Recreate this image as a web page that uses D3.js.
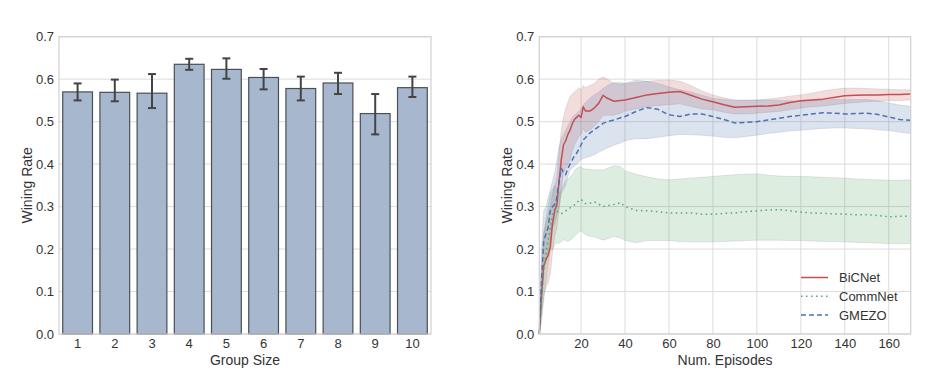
<!DOCTYPE html>
<html>
<head>
<meta charset="utf-8">
<script src="https://cdn.jsdelivr.net/npm/d3@7"></script>
<style>
body { margin: 0; background: #fff; }
text { font-family: "Liberation Sans", Arial, sans-serif; }
</style>
</head>
<body>
<div id="plot"></div>
<script>
// left panel: winning rate per group size
var groupSizes = [1, 2, 3, 4, 5, 6, 7, 8, 9, 10];
var winRates = [0.570, 0.569, 0.567, 0.635, 0.623, 0.604, 0.578, 0.591, 0.519, 0.580];
var errLow = [0.550, 0.548, 0.532, 0.622, 0.601, 0.576, 0.550, 0.565, 0.470, 0.558];
var errHigh = [0.590, 0.599, 0.612, 0.648, 0.649, 0.624, 0.606, 0.615, 0.565, 0.606];

// right panel: learning curves
var episodes = [1, 2, 3, 4, 5, 6, 7, 8, 9, 10, 11, 12, 13, 14, 15, 16, 17, 18, 19, 20, 21, 22, 24, 26, 28, 30, 32, 35, 38, 40,
    45, 50, 55, 60, 65, 70, 75, 80, 85, 90, 95, 100, 105, 110, 115, 120, 125, 130, 135, 140, 145, 150, 155, 160, 165, 170];

var bicnetMean = [0.0, 0.09, 0.16, 0.175, 0.185, 0.205, 0.26, 0.29, 0.305, 0.36, 0.41, 0.445, 0.455, 0.47, 0.48, 0.495, 0.505, 0.51, 0.515, 0.51, 0.535, 0.525, 0.525, 0.532, 0.543, 0.562, 0.555, 0.548, 0.55, 0.551,
    0.557, 0.563, 0.566, 0.569, 0.571, 0.562, 0.553, 0.547, 0.54, 0.534, 0.535, 0.536, 0.537, 0.539, 0.545, 0.549, 0.551, 0.553, 0.557, 0.561, 0.562, 0.563, 0.563, 0.564, 0.564, 0.565];
var bicnetHigh = [0.02, 0.15, 0.24, 0.26, 0.28, 0.3, 0.33, 0.35, 0.37, 0.43, 0.48, 0.51, 0.53, 0.545, 0.56, 0.565, 0.57, 0.575, 0.58, 0.575, 0.585, 0.58, 0.585, 0.59, 0.6, 0.605, 0.6, 0.59, 0.588, 0.59,
    0.592, 0.595, 0.597, 0.598, 0.595, 0.585, 0.572, 0.563, 0.556, 0.551, 0.551, 0.551, 0.553, 0.556, 0.56, 0.563, 0.567, 0.572, 0.576, 0.579, 0.579, 0.578, 0.577, 0.576, 0.575, 0.575];
var bicnetLow = [0.0, 0.04, 0.09, 0.11, 0.12, 0.14, 0.19, 0.23, 0.25, 0.29, 0.34, 0.38, 0.39, 0.4, 0.41, 0.43, 0.445, 0.455, 0.465, 0.47, 0.485, 0.475, 0.48, 0.49, 0.5, 0.515, 0.515, 0.515, 0.52, 0.525,
    0.53, 0.535, 0.538, 0.54, 0.542, 0.536, 0.53, 0.528, 0.522, 0.518, 0.518, 0.52, 0.522, 0.524, 0.528, 0.532, 0.535, 0.537, 0.54, 0.543, 0.545, 0.547, 0.548, 0.549, 0.55, 0.551];

var commnetMean = [0.0, 0.08, 0.15, 0.19, 0.22, 0.25, 0.28, 0.295, 0.29, 0.285, 0.283, 0.287, 0.29, 0.293, 0.297, 0.3, 0.304, 0.309, 0.314, 0.317, 0.312, 0.307, 0.308, 0.311, 0.306, 0.3, 0.302, 0.305, 0.309, 0.3,
    0.291, 0.29, 0.288, 0.285, 0.285, 0.285, 0.282, 0.282, 0.284, 0.285, 0.288, 0.29, 0.292, 0.293, 0.29, 0.287, 0.285, 0.284, 0.283, 0.282, 0.281, 0.281, 0.279, 0.276, 0.277, 0.277];
var commnetHigh = [0.02, 0.15, 0.23, 0.27, 0.3, 0.33, 0.34, 0.35, 0.34, 0.33, 0.34, 0.35, 0.36, 0.365, 0.37, 0.375, 0.385, 0.39, 0.393, 0.394, 0.39, 0.388, 0.388, 0.386, 0.387, 0.386, 0.39, 0.396, 0.394, 0.384,
    0.376, 0.37, 0.365, 0.363, 0.365, 0.367, 0.369, 0.371, 0.373, 0.375, 0.376, 0.377, 0.374, 0.372, 0.371, 0.371, 0.37, 0.369, 0.368, 0.367, 0.365, 0.364, 0.363, 0.362, 0.362, 0.363];
var commnetLow = [0.0, 0.03, 0.08, 0.12, 0.16, 0.198, 0.2, 0.21, 0.215, 0.213, 0.218, 0.222, 0.22, 0.218, 0.221, 0.225, 0.23, 0.235, 0.24, 0.243, 0.238, 0.234, 0.23, 0.229, 0.225, 0.221, 0.224, 0.23, 0.226, 0.22,
    0.215, 0.22, 0.22, 0.22, 0.218, 0.217, 0.217, 0.217, 0.218, 0.219, 0.22, 0.221, 0.221, 0.221, 0.22, 0.22, 0.219, 0.218, 0.218, 0.217, 0.216, 0.215, 0.214, 0.213, 0.213, 0.213];

var gmezoMean = [0.0, 0.12, 0.22, 0.235, 0.25, 0.29, 0.3, 0.305, 0.32, 0.36, 0.39, 0.38, 0.375, 0.39, 0.4, 0.41, 0.42, 0.426, 0.435, 0.445, 0.457, 0.462, 0.473, 0.481, 0.488, 0.496, 0.5, 0.504, 0.509, 0.512,
    0.524, 0.533, 0.529, 0.516, 0.512, 0.518, 0.518, 0.512, 0.505, 0.497, 0.498, 0.5, 0.504, 0.508, 0.512, 0.515, 0.518, 0.521, 0.52, 0.518, 0.519, 0.52, 0.517, 0.511, 0.505, 0.503];
var gmezoHigh = [0.02, 0.2, 0.29, 0.3, 0.32, 0.34, 0.36, 0.38, 0.41, 0.44, 0.46, 0.47, 0.48, 0.49, 0.5, 0.51, 0.515, 0.52, 0.525, 0.53, 0.54, 0.545, 0.555, 0.563, 0.57, 0.578, 0.585, 0.592, 0.592, 0.59,
    0.598, 0.595, 0.59, 0.582, 0.575, 0.57, 0.562, 0.555, 0.552, 0.55, 0.55, 0.551, 0.551, 0.55, 0.549, 0.548, 0.549, 0.551, 0.552, 0.552, 0.552, 0.552, 0.549, 0.544, 0.539, 0.536];
var gmezoLow = [0.0, 0.06, 0.15, 0.17, 0.19, 0.23, 0.25, 0.26, 0.28, 0.3, 0.33, 0.34, 0.35, 0.37, 0.385, 0.39, 0.395, 0.4, 0.405, 0.41, 0.413, 0.415, 0.418, 0.422, 0.428, 0.433, 0.438, 0.445, 0.45, 0.455,
    0.46, 0.46, 0.463, 0.467, 0.47, 0.469, 0.468, 0.466, 0.463, 0.462, 0.465, 0.468, 0.472, 0.475, 0.478, 0.48, 0.482, 0.484, 0.485, 0.485, 0.484, 0.483, 0.481, 0.479, 0.475, 0.472];

var yTicks = [0.0, 0.1, 0.2, 0.3, 0.4, 0.5, 0.6, 0.7];
var episodeTicks = [20, 40, 60, 80, 100, 120, 140, 160];

var series = [
    { name: 'BiCNet', mean: bicnetMean, low: bicnetLow, high: bicnetHigh, color: '#c44e52', dash: null },
    { name: 'CommNet', mean: commnetMean, low: commnetLow, high: commnetHigh, color: '#55a868', dash: '1.5,3.5' },
    { name: 'GMEZO', mean: gmezoMean, low: gmezoLow, high: gmezoHigh, color: '#4c72b0', dash: '5,3' }
];

var svg = d3.select('#plot')
    .append('svg')
    .attr('width', 950)
    .attr('height', 381);

var plotTop = 36.7, plotBottom = 334;
var gridColor = '#dcdcdc';
var textColor = '#333';

var y = d3.scaleLinear().domain([0, 0.7]).range([plotBottom, plotTop]);

function drawYAxis(g, x0, x1) {
    g.append('g')
        .selectAll('line')
        .data(yTicks)
        .enter().append('line')
        .attr('x1', x0).attr('x2', x1)
        .attr('y1', function (d) { return y(d); })
        .attr('y2', function (d) { return y(d); })
        .attr('stroke', gridColor)
        .attr('stroke-width', 1);
    var ax = g.append('g')
        .attr('transform', 'translate(' + x0 + ',0)')
        .call(d3.axisLeft(y).tickValues(yTicks).tickSize(0).tickPadding(5).tickFormat(d3.format('.1f')));
    ax.select('.domain').remove();
    ax.selectAll('text').attr('font-size', 13).attr('fill', textColor)
        .style('font-family', '"Liberation Sans", Arial, sans-serif');
}

function frame(g, x0, x1) {
    g.append('rect')
        .attr('x', x0).attr('y', plotTop)
        .attr('width', x1 - x0).attr('height', plotBottom - plotTop)
        .attr('fill', 'none')
        .attr('stroke', '#d0d0d0')
        .attr('stroke-width', 1.2);
}

// ---- left: bar chart ----
var L0 = 59, L1 = 431;
var left = svg.append('g');

var xBand = d3.scaleBand().domain(groupSizes).range([L0, L1]).paddingInner(0.2).paddingOuter(0.1);

drawYAxis(left, L0, L1);

left.append('g')
    .selectAll('rect')
    .data(groupSizes)
    .enter().append('rect')
    .attr('x', function (d) { return xBand(d); })
    .attr('width', xBand.bandwidth())
    .attr('y', function (d, i) { return y(winRates[i]); })
    .attr('height', function (d, i) { return y(0) - y(winRates[i]); })
    .attr('fill', '#a7b8ce')
    .attr('stroke', '#4a4f56')
    .attr('stroke-width', 1.2);

var errs = left.append('g')
    .selectAll('g')
    .data(groupSizes)
    .enter().append('g')
    .attr('stroke', '#444')
    .attr('stroke-width', 2);
errs.append('line')
    .attr('x1', function (d) { return xBand(d) + xBand.bandwidth() / 2; })
    .attr('x2', function (d) { return xBand(d) + xBand.bandwidth() / 2; })
    .attr('y1', function (d, i) { return y(errLow[i]); })
    .attr('y2', function (d, i) { return y(errHigh[i]); });
errs.append('line')
    .attr('x1', function (d) { return xBand(d) + xBand.bandwidth() / 2 - 4; })
    .attr('x2', function (d) { return xBand(d) + xBand.bandwidth() / 2 + 4; })
    .attr('y1', function (d, i) { return y(errLow[i]); })
    .attr('y2', function (d, i) { return y(errLow[i]); });
errs.append('line')
    .attr('x1', function (d) { return xBand(d) + xBand.bandwidth() / 2 - 4; })
    .attr('x2', function (d) { return xBand(d) + xBand.bandwidth() / 2 + 4; })
    .attr('y1', function (d, i) { return y(errHigh[i]); })
    .attr('y2', function (d, i) { return y(errHigh[i]); });

frame(left, L0, L1);

var lx = left.append('g')
    .attr('transform', 'translate(0,' + plotBottom + ')')
    .call(d3.axisBottom(xBand).tickSize(0).tickPadding(5));
lx.select('.domain').remove();
lx.selectAll('text').attr('font-size', 13).attr('fill', textColor)
    .style('font-family', '"Liberation Sans", Arial, sans-serif');

left.append('text')
    .attr('x', (L0 + L1) / 2).attr('y', 365)
    .attr('text-anchor', 'middle')
    .attr('font-size', 14).attr('fill', textColor)
    .text('Group Size');
left.append('text')
    .attr('transform', 'translate(32,' + ((plotTop + plotBottom) / 2) + ') rotate(-90)')
    .attr('text-anchor', 'middle')
    .attr('font-size', 14).attr('fill', textColor)
    .text('Wining Rate');

// ---- right: learning curves ----
var R0 = 539.3, R1 = 910.7;
var right = svg.append('g');
var x = d3.scaleLinear().domain([1, 170]).range([R0, R1]);

drawYAxis(right, R0, R1);
right.append('g')
    .selectAll('line')
    .data(episodeTicks)
    .enter().append('line')
    .attr('x1', function (d) { return x(d); })
    .attr('x2', function (d) { return x(d); })
    .attr('y1', plotTop).attr('y2', plotBottom)
    .attr('stroke', gridColor)
    .attr('stroke-width', 1);

var band = d3.area()
    .x(function (d, i) { return x(episodes[i]); });

series.forEach(function (s) {
    right.append('path')
        .attr('d', band.y0(function (d, i) { return y(s.low[i]); }).y1(function (d, i) { return y(s.high[i]); })(episodes))
        .attr('fill', s.color)
        .attr('fill-opacity', 0.2)
        .attr('stroke', '#888')
        .attr('stroke-opacity', 0.25)
        .attr('stroke-width', 0.8);
});

var line = d3.line()
    .x(function (d, i) { return x(episodes[i]); });

series.forEach(function (s) {
    right.append('path')
        .attr('d', line.y(function (d, i) { return y(s.mean[i]); })(episodes))
        .attr('fill', 'none')
        .attr('stroke', s.color)
        .attr('stroke-width', 1.5)
        .attr('stroke-linejoin', 'round')
        .attr('stroke-dasharray', s.dash);
});

frame(right, R0, R1);

var rx = right.append('g')
    .attr('transform', 'translate(0,' + plotBottom + ')')
    .call(d3.axisBottom(x).tickValues(episodeTicks).tickSize(0).tickPadding(5));
rx.select('.domain').remove();
rx.selectAll('text').attr('font-size', 13).attr('fill', textColor)
    .style('font-family', '"Liberation Sans", Arial, sans-serif');

right.append('text')
    .attr('x', (R0 + R1) / 2).attr('y', 365)
    .attr('text-anchor', 'middle')
    .attr('font-size', 14).attr('fill', textColor)
    .text('Num. Episodes');
right.append('text')
    .attr('transform', 'translate(512,' + ((plotTop + plotBottom) / 2) + ') rotate(-90)')
    .attr('text-anchor', 'middle')
    .attr('font-size', 14).attr('fill', textColor)
    .text('Wining Rate');

// legend
var legend = right.append('g')
    .selectAll('g')
    .data(series)
    .enter().append('g')
    .attr('transform', function (d, i) { return 'translate(801,' + (277.5 + i * 18.8) + ')'; });
legend.append('line')
    .attr('x1', 0).attr('x2', 27)
    .attr('stroke', function (d) { return d.color; })
    .attr('stroke-width', 1.5)
    .attr('stroke-dasharray', function (d) { return d.dash; });
legend.append('text')
    .attr('x', 38).attr('dy', '0.35em')
    .attr('font-size', 13).attr('fill', textColor)
    .text(function (d) { return d.name; });
</script>
</body>
</html>
